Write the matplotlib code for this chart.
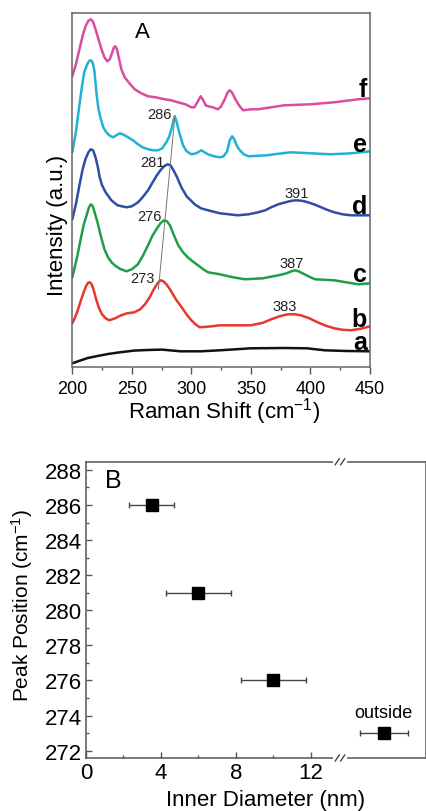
import matplotlib
matplotlib.use('Agg')
import matplotlib.pyplot as plt
from matplotlib.ticker import MultipleLocator

plt.rcParams['font.family'] = ['Liberation Sans', 'DejaVu Sans']
plt.rcParams['mathtext.fontset'] = 'custom'
plt.rcParams['mathtext.rm'] = 'Liberation Sans'
plt.rcParams['mathtext.it'] = 'Liberation Sans:italic'
plt.rcParams['mathtext.bf'] = 'Liberation Sans:bold'

# ---------------- Panel A data (Raman spectra, stacked, a.u.) ----------------
a_x = [200, 206, 213, 222, 230, 240, 252, 263, 275, 291, 308, 324, 350, 378, 397, 412, 430, 450]
a_y = [4, 6.5, 9.3, 11.5, 13.3, 15, 16.7, 17.3, 17.7, 16, 16, 17, 19, 19.3, 19, 17, 16.3, 16]

b_x = [200, 202, 204, 207, 209.5, 211.5, 213.2, 214.8, 216.3, 218, 220, 222.5, 225, 228, 231,
       236, 241, 246, 252, 257, 261, 265, 268, 271, 273, 274.5, 276.5, 279, 282, 285, 287,
       290, 293, 296.5, 300, 303.5, 307, 312, 317, 324, 335, 350, 360, 367, 374, 381, 386.5,
       392, 399, 406, 413, 420, 427, 434, 442, 450]
b_y = [44, 49, 55, 66, 75, 81, 84.5, 85, 83, 77, 68, 59, 53, 49, 47,
       49, 52, 54, 55, 58, 63, 70, 77, 83, 86, 87, 86, 83, 78, 72, 68,
       63, 58, 52, 47, 43, 40, 40.5, 41, 42, 42, 42, 44.5, 48, 51, 53, 53,
       52, 49, 45, 41.5, 39, 37.5, 37, 38.5, 41]

c_x = [200, 202, 204, 207, 209.5, 212, 214, 215.6, 217.2, 219, 221.6, 224, 227, 230, 233,
       235.6, 240, 245.4, 250, 255, 259, 263.6, 267, 270.6, 274, 277, 279.5, 282, 285, 289,
       293, 297, 301, 305.6, 310, 314, 319, 324, 335, 345, 360, 373, 380, 384, 387, 390, 395,
       400, 404, 412, 420, 430, 440, 450]
c_y = [90, 100, 110, 128, 142, 152, 160, 163, 161, 154, 143, 131, 118, 110, 105,
       102, 98.5, 96, 98, 103, 111, 122, 131, 138, 144, 147, 146, 142, 133, 122,
       115, 110, 106, 102, 98, 95, 94, 93, 90, 88, 89, 92, 94, 96, 97, 96, 93,
       90, 88, 87.5, 87, 85, 83, 84]

d_x = [200, 203, 206, 208.5, 211, 213.5, 215.5, 217.5, 219.5, 221.5, 223, 225, 228, 232.8,
       238, 245.4, 250, 255.2, 259, 263.6, 267, 271, 274, 277, 280, 282.5, 285, 288, 291.6,
       296, 302.8, 308, 314, 324, 339, 348, 356, 362, 367, 373, 379, 384, 388, 393, 398, 404,
       409, 414, 420, 427, 434, 450]
d_y = [148, 163, 182, 197, 208, 215, 218, 217, 210, 200, 190, 182, 175, 167,
       162, 160, 161, 165, 170, 177, 184, 192, 197, 201, 203, 202, 197, 190, 180,
       171, 163, 159, 157, 154, 152, 153, 155, 157, 160, 163, 165, 166.5, 167, 166.5, 165, 162.5,
       160, 157.5, 155, 153, 152, 152]

e_x = [200, 203, 205.5, 208, 210, 212.5, 214.2, 215.6, 217, 218.5, 220.5, 222, 224, 226,
       228.6, 231, 234.2, 237, 239.8, 242.5, 246.8, 251, 255.2, 259, 263.6, 268, 272, 275.5,
       279, 281.5, 283.2, 284.8, 286, 287.3, 288.5, 290, 291.5, 293, 296, 300, 304, 308.4,
       311, 314, 319, 324, 327, 330, 332.2, 334.2, 336, 338, 340, 344, 348, 363, 383, 400,
       417, 434, 450]
e_y = [215, 235, 258, 280, 295, 303, 306.5, 307, 305, 297, 272, 258, 248, 240,
       235, 232, 230, 232, 234, 233, 230, 227, 223, 220, 218, 217, 217, 219,
       225, 231, 238, 246, 251, 247, 241, 234, 228, 222, 216, 213, 214, 217,
       215, 213, 211, 210, 211, 216, 227, 231, 228, 222, 218, 213, 211, 212, 215, 214,
       213, 214, 216]

f_x = [200, 203, 206, 209, 211.5, 213.5, 215.4, 217.3, 219.5, 222, 224.5, 227, 229.4, 231.5,
       233.5, 235, 236.2, 237.5, 239, 241.2, 244, 248, 252.4, 258, 263.6, 270, 277.6, 283,
       288.8, 295, 300, 302.5, 305, 307.8, 310, 312, 314, 318, 322.4, 325, 328, 330.5, 332.2,
       334, 337, 340, 343.4, 350, 356, 378, 400, 420, 440, 450]
f_y = [291, 303, 318, 333, 342, 346.5, 348, 346, 338, 328, 318, 310, 306, 308,
       315, 320, 321, 318, 310, 298, 290, 284, 278, 274, 271, 270, 268, 267,
       265, 263, 260, 260, 265, 271, 267, 262, 261, 260, 258, 261, 268, 275, 277,
       275, 268, 262, 257, 258, 258, 262, 263, 265, 268, 269]

curve_names = ['a', 'b', 'c', 'd', 'e', 'f']
curve_colors = ['#111111', '#e8372c', '#1f9e48', '#2e4ea6', '#1fb2d6', '#d94c9f']
curve_label_y = [25, 48, 93, 161, 223, 278]

peak_labels = ['286', '281', '276', '273', '391', '387', '383']
peak_label_x = [272.8, 266.9, 264.4, 259.3, 388.7, 384.5, 378.6]
peak_label_y = [253, 205, 151, 89, 174, 104, 61]

trend_x = [272.3, 286.2]
trend_y = [78, 251.7]

# ---------------- Panel B data ----------------
diameter = [3.5, 6.0, 10.0, 15.9]
diameter_err = [1.22, 1.73, 1.73, 1.28]
peak_position = [286, 281, 276, 273]

fig = plt.figure(figsize=(4.27, 8.12), dpi=100)

# ================= Panel A =================
axA = fig.add_axes([72.3 / 427, 1 - 368.3 / 812, (370 - 72.3) / 427, (368.3 - 14) / 812])
xs = [a_x, b_x, c_x, d_x, e_x, f_x]
ys = [a_y, b_y, c_y, d_y, e_y, f_y]
for x, y, col in zip(xs, ys, curve_colors):
    axA.plot(x, y, color=col, lw=1.8, solid_joinstyle='round', solid_capstyle='round')
axA.plot(trend_x, trend_y, color='#777777', lw=0.7)
for n, ly in zip(curve_names, curve_label_y):
    axA.text(447.5, ly, n, fontsize=18, fontweight='bold', ha='right', va='center')
for t, px, py in zip(peak_labels, peak_label_x, peak_label_y):
    axA.text(px, py, t, fontsize=10.5, ha='center', va='center', color='#222222')
axA.text(258.5, 336, 'A', fontsize=16, ha='center', va='center')

axA.set_xlim(200, 450)
axA.set_ylim(0, 354.3)
axA.set_yticks([])
axA.xaxis.set_major_locator(MultipleLocator(50))
axA.xaxis.set_minor_locator(MultipleLocator(25))
axA.tick_params(axis='x', which='major', direction='out', length=5, width=1, labelsize=13,
                pad=4, color='#555555')
axA.tick_params(axis='x', which='minor', direction='out', length=2.5, width=1, color='#555555')
for s in axA.spines.values():
    s.set_color('#666666')
    s.set_linewidth(1.1)
fig.text(224 / 427, 1 - 411.7 / 812, 'Raman Shift (cm$^{-1}$)', fontsize=16,
         ha='center', va='center')
fig.text(58 / 427, 1 - 225 / 812, 'Intensity (a.u.)', fontsize=16, rotation=90,
         ha='center', va='center')

# ================= Panel B =================
axB = fig.add_axes([86 / 427, 1 - 759 / 812, (426 - 86) / 427, (759 - 462.7) / 812])
axB.errorbar(diameter, peak_position, xerr=diameter_err, fmt='s', color='black',
             ecolor='#444444', elinewidth=1.0, capsize=2.5, capthick=1.0, markersize=8)
axB.set_xlim(0, 18.16)
axB.set_ylim(271.58, 288.47)
axB.set_xticks([0, 4, 8, 12])
axB.set_xticks([2, 6, 10], minor=True)
axB.set_yticks(list(range(272, 289, 2)))
axB.yaxis.set_minor_locator(MultipleLocator(1))
axB.tick_params(axis='both', which='major', direction='in', length=4, width=1,
                labelsize=16, color='#555555')
axB.tick_params(axis='both', which='minor', direction='in', length=2, width=1, color='#555555')
axB.tick_params(axis='x', which='major', pad=3)
axB.tick_params(axis='y', which='major', pad=3)
for s in axB.spines.values():
    s.set_color('#555555')
    s.set_linewidth(1.1)

# axis break marks on top and bottom spines
brk = 0.747
gap = 0.016
for yy in (0, 1):
    axB.plot([brk - gap, brk + gap], [yy, yy], transform=axB.transAxes, color='white',
             lw=3, clip_on=False, zorder=5)
    for off in (-0.008, 0.008):
        axB.plot([brk + off - 0.006, brk + off + 0.006], [yy - 0.01, yy + 0.01],
                 transform=axB.transAxes, color='#444444', lw=1.0, clip_on=False, zorder=6)

axB.text(1.44, 287.4, 'B', fontsize=18, ha='center', va='center')
axB.text(15.87, 274.2, 'outside', fontsize=13, ha='center', va='center')

fig.text(266 / 427, 1 - 801 / 812, 'Inner Diameter (nm)', fontsize=16,
         ha='center', va='center')
fig.text(22 / 427, 1 - 605 / 812, 'Peak Position (cm$^{-1}$)', fontsize=15, rotation=90,
         ha='center', va='center')

fig.savefig('out.png', dpi=100)
